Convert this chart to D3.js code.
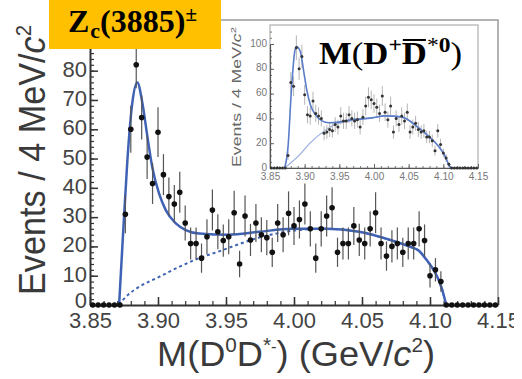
<!DOCTYPE html>
<html><head><meta charset="utf-8">
<script src="https://cdn.jsdelivr.net/npm/d3@7"></script>
<style>body{margin:0;background:#fff}svg{display:block}</style>
</head><body>
<svg id="c" width="522" height="379"></svg>
<script>
// ---------- DATA ----------
const massBins = [3.852,3.856,3.860,3.864,3.868,3.872,3.876,3.880,3.884,3.888,3.892,3.896,3.900,3.904,3.908,3.912,3.916,3.920,3.924,3.928,3.932,3.936,3.940,3.944,3.948,3.952,3.956,3.960,3.964,3.968,3.972,3.976,3.980,3.984,3.988,3.992,3.996,4.000,4.004,4.008,4.012,4.016,4.020,4.024,4.028,4.032,4.036,4.040,4.044,4.048,4.052,4.056,4.060,4.064,4.068,4.072,4.076,4.080,4.084,4.088,4.092,4.096,4.100,4.104,4.108,4.112,4.116,4.120,4.124,4.128,4.132,4.136,4.140,4.144,4.148];
const mainCounts = [0,0,0,0,0,0,
 31,60,82,64,50.5,41.5,59,44.5,37,34.5,38.5,28,21,21,16,23.3,32.4,25,22,23.3,31.5,14,30.4,22.2,28,24,23,18,28,24,31.3,27,29.2,34.5,26,16,26,30.4,33.2,18,21,21,27,22.2,21,26,31.5,21,16.7,20,21,18,21,21,26,22,10,12,8,0,
 0,0,0,0,0,0,0,0,0];
const mainErrors = [0,0,0,0,0,0,
 6.5,8,8,7.5,7.5,7,8.5,7,6.5,6.5,7,6,5.5,5.5,5,6,7,6,5.5,6,7.5,4.5,7,5.5,6.5,6,6,5,6.5,6,7.5,6.5,6.5,7,6,5,6,7,7,5,5.5,5.5,6.5,5.5,5.5,6,7,5.5,5,5.5,5.5,5,5.5,5.5,6,5.5,4,4,3.5,0,
 0,0,0,0,0,0,0,0,0];
const fitMass  = [3.8714,3.8738,3.8775,3.8811,3.8848,3.8885,3.8922,3.8958,3.9008,3.9057,3.9131,3.9204,3.9302,3.9522,3.9743,3.9986,4.0236,4.0478,4.0721,4.0846,4.0919,4.0973,4.1033,4.1073,4.1103,4.1118];
const fitTotal = [0,20,49.5,69,76,69,57.5,47,38,32.4,27.9,25.6,24.4,24,25,26,26,25,22,20,18.5,15.5,11.5,7.5,3,0];
const bgMass = [3.8714,3.8738,3.8783,3.8861,3.9008,3.9155,3.9302,3.9449,3.9596,3.9743,3.9893,4.0086,4.0236,4.0478,4.0721,4.0846,4.0919,4.0973,4.1033,4.1073,4.1103,4.1118];
const bgVal  = [0,1.5,3.6,6.2,9.6,13,16,18.3,20.8,23,24.6,25.8,26,25,22,20,18.5,15.5,11.5,7.5,3,0];

const insetCounts = [0,0,0,0,0,0,
 10,69,66,97,80,90,59,43,42,54,44,42,40,28,29,31,30,35,33,42,38,38,43,40,38,39,33,41,50,57,55,52,49,44,58,45,39,50,29,40,35,42,38,45,29,33,36,31,29,30,25,25,22,14,30,19,12,8,3,
 0,0,0,0,0,0,0,0,0,0];
const insetErrors = [0,0,0,0,0,0,
 3.5,8.5,8,10,9,9.5,8,7,7,7.5,7,7,6.5,5.5,5.5,6,5.5,6,6,7,6.5,6.5,7,6.5,6.5,6.5,6,6.5,7.5,8,7.5,7.5,7,7,8,7,6.5,7.5,5.5,6.5,6,7,6.5,7,5.5,6,6,6,5.5,5.5,5,5,5,4,5.5,4.5,3.5,3,2,
 0,0,0,0,0,0,0,0,0,0];
const insetFitMass = [3.8712,3.8760,3.8808,3.8857,3.8880,3.8937,3.8986,3.9034,3.9082,3.9154,3.9250,3.9347,3.9491,3.9683,3.9827,3.9971,4.0155,4.0395,4.0636,4.0780,4.0924,4.1021,4.1093,4.1108];
const insetFitVal  = [0,17,62,94,98,94,78,62,51,43,38,36.5,37,39,39.6,40.4,42,41.2,32.7,26,18,10,1,0];
const insetBgMass = [3.8712,3.8933,3.9077,3.9275,3.9440,3.9650,3.9827,3.9971,4.0155,4.0395,4.0636,4.0780,4.0924,4.1021,4.1093,4.1108];
const insetBgVal  = [0,11,20,29.5,35,38,39.6,40.4,42,41.2,32.7,26,18,10,1,0];

const xTicks = [3.85,3.90,3.95,4.00,4.05,4.10,4.15];
const yTicks = [0,10,20,30,40,50,60,70,80];
const insetYTicks = [0,20,40,60,80,100];

// ---------- DRAW ----------
const svg = d3.select('#c');
svg.append('rect').attr('width',522).attr('height',379).attr('fill','#fff');
const SANS = "'Liberation Sans', Arial, sans-serif";
const SERIF = "'Liberation Serif', 'Times New Roman', serif";
const blue = '#3f62b5';

const x = d3.scaleLinear().domain([3.85,4.15]).range([90,498]);
const y = d3.scaleLinear().domain([0,97.3]).range([305,20]);

// frame
svg.append('path').attr('d',`M${x(3.85)},${y(97.3)}H${x(4.15)}V${y(0)}`)
  .attr('fill','none').attr('stroke','#9a9a9a').attr('stroke-width',1.5);

// minor ticks
const xMinor = d3.range(3.85,4.1501,0.01);
const yMinor = d3.range(0,97,2);
svg.append('g').attr('transform',`translate(0,${y(0)})`)
  .call(d3.axisBottom(x).tickValues(xMinor).tickSize(-4).tickFormat(''))
  .call(g=>g.select('.domain').remove())
  .call(g=>g.selectAll('line').attr('stroke','#333').attr('stroke-width',1.2));
svg.append('g').attr('transform',`translate(${x(3.85)},0)`)
  .call(d3.axisLeft(y).tickValues(yMinor).tickSize(-4).tickFormat(''))
  .call(g=>g.select('.domain').remove())
  .call(g=>g.selectAll('line').attr('stroke','#333').attr('stroke-width',1.2));

// major axes
const gx = svg.append('g').attr('transform',`translate(0,${y(0)})`)
  .call(d3.axisBottom(x).tickValues(xTicks).tickFormat(d3.format('.2f')).tickSize(-8).tickSizeOuter(0).tickPadding(7));
const gy = svg.append('g').attr('transform',`translate(${x(3.85)},0)`)
  .call(d3.axisLeft(y).tickValues(yTicks).tickSize(-8).tickSizeOuter(0).tickPadding(3));
[gx,gy].forEach(g=>{
  g.select('.domain').attr('stroke','#333').attr('stroke-width',2);
  g.selectAll('line').attr('stroke','#333').attr('stroke-width',1.5);
  g.selectAll('text').attr('font-family',SANS).attr('font-size',22).attr('fill','#444');
});
gy.selectAll('text').attr('dy',d=>d===0?'0.12em':'0.25em');

// curves
const line = d3.line().x(d=>x(d[0])).y(d=>y(d[1])).curve(d3.curveMonotoneX);
svg.append('path').datum(d3.zip(bgMass,bgVal)).attr('d',line)
  .attr('fill','none').attr('stroke',blue).attr('stroke-width',2).attr('stroke-dasharray','3,3');
svg.append('path').datum(d3.zip(fitMass,fitTotal)).attr('d',line)
  .attr('fill','none').attr('stroke',blue).attr('stroke-width',2.5);

// data
const pts = d3.zip(massBins,mainCounts,mainErrors);
svg.append('g').selectAll('line').data(pts).join('line')
  .attr('x1',d=>x(d[0])).attr('x2',d=>x(d[0]))
  .attr('y1',d=>y(Math.max(0,d[1]-d[2]))).attr('y2',d=>y(d[1]+d[2]))
  .attr('stroke','#555').attr('stroke-width',1.2);
svg.append('g').selectAll('circle').data(pts).join('circle')
  .attr('cx',d=>x(d[0])).attr('cy',d=>y(d[1])).attr('r',2.8).attr('fill','#111');

// right-edge crop of the last tick label, as in the reference picture
svg.append('rect').attr('x',514).attr('y',310).attr('width',8).attr('height',26).attr('fill','#fff');

// axis labels
svg.append('text').attr('transform','translate(45,160) rotate(-90)')
  .attr('text-anchor','middle').attr('font-family',SANS).attr('font-size',37).attr('fill','#3a3a3a')
  .attr('textLength',270).attr('lengthAdjust','spacingAndGlyphs')
  .call(t=>{t.append('tspan').text('Events / 4 MeV/');
            t.append('tspan').attr('font-style','italic').text('c');
            t.append('tspan').attr('font-size',22).attr('dy',-14).text('2');});
svg.append('text').attr('x',296).attr('y',366)
  .attr('text-anchor','middle').attr('font-family',SANS).attr('font-size',35).attr('fill','#3a3a3a')
  .attr('textLength',278).attr('lengthAdjust','spacingAndGlyphs')
  .call(t=>{t.append('tspan').text('M(D');
            t.append('tspan').attr('font-size',20).attr('dy',-14).text('0');
            t.append('tspan').attr('dy',14).text('D');
            t.append('tspan').attr('font-size',20).attr('dy',-14).text('*');
            t.append('tspan').attr('font-size',16).text('-');
            t.append('tspan').attr('dy',14).text(') (GeV/');
            t.append('tspan').attr('font-style','italic').text('c');
            t.append('tspan').attr('font-size',20).attr('dy',-14).text('2');
            t.append('tspan').attr('dy',14).text(')');});

// ---------- INSET ----------
const xi = d3.scaleLinear().domain([3.85,4.15]).range([270,478]);
const yi = d3.scaleLinear().domain([0,100]).range([168,44]);
const gi = svg.append('g');
gi.append('rect').attr('x',270).attr('y',25).attr('width',208).attr('height',143)
  .attr('fill','#fff').attr('stroke','#b0b0b0').attr('stroke-width',1.2);
gi.append('g').attr('transform',`translate(0,${yi(0)})`)
  .call(d3.axisBottom(xi).tickValues(d3.range(3.85,4.1501,0.01)).tickSize(-2).tickFormat(''))
  .call(g=>g.select('.domain').remove())
  .call(g=>g.selectAll('line').attr('stroke','#777'));
gi.append('g').attr('transform',`translate(270,0)`)
  .call(d3.axisLeft(yi).tickValues(d3.range(0,115,5)).tickSize(-2).tickFormat(''))
  .call(g=>g.select('.domain').remove())
  .call(g=>g.selectAll('line').attr('stroke','#777'));
const gix = gi.append('g').attr('transform',`translate(0,${yi(0)})`)
  .call(d3.axisBottom(xi).tickValues(xTicks).tickFormat(d3.format('.2f')).tickSize(-4).tickSizeOuter(0).tickPadding(5));
const giy = gi.append('g').attr('transform',`translate(270,0)`)
  .call(d3.axisLeft(yi).tickValues(insetYTicks).tickSize(-4).tickSizeOuter(0).tickPadding(3));
[gix,giy].forEach(g=>{
  g.select('.domain').attr('stroke','#555').attr('stroke-width',1.2);
  g.selectAll('line').attr('stroke','#666');
  g.selectAll('text').attr('font-family',SANS).attr('font-size',10).attr('fill','#777');
});
giy.selectAll('text').attr('dy','0.2em');
const linei = d3.line().x(d=>xi(d[0])).y(d=>yi(d[1])).curve(d3.curveMonotoneX);
gi.append('path').datum(d3.zip(insetBgMass,insetBgVal)).attr('d',linei)
  .attr('fill','none').attr('stroke','#93a9dc').attr('stroke-width',1.1);
const ipts = d3.zip(massBins,insetCounts,insetErrors);
gi.append('g').selectAll('line').data(ipts).join('line')
  .attr('x1',d=>xi(d[0])).attr('x2',d=>xi(d[0]))
  .attr('y1',d=>yi(Math.max(0,d[1]-d[2]))).attr('y2',d=>yi(d[1]+d[2]))
  .attr('stroke','#b5b5b5').attr('stroke-width',1);
gi.append('path').datum(d3.zip(insetFitMass,insetFitVal)).attr('d',linei)
  .attr('fill','none').attr('stroke','#5b7cc8').attr('stroke-width',1.6);
gi.append('g').selectAll('circle').data(ipts).join('circle')
  .attr('cx',d=>xi(d[0])).attr('cy',d=>yi(d[1])).attr('r',1.5).attr('fill','#333');
gi.append('text').attr('transform','translate(241,97) rotate(-90)')
  .attr('text-anchor','middle').attr('font-family',SANS).attr('font-size',12.5).attr('fill','#666')
  .attr('textLength',140).attr('lengthAdjust','spacingAndGlyphs')
  .call(t=>{t.append('tspan').text('Events / 4 MeV/');
            t.append('tspan').attr('font-style','italic').text('c');
            t.append('tspan').attr('font-size',8).attr('dy',-5).text('2');});
const it = gi.append('text').attr('x',319).attr('y',64)
  .attr('font-family',SERIF).attr('font-weight','bold').attr('font-size',31).attr('fill','#000')
  .attr('textLength',143).attr('lengthAdjust','spacingAndGlyphs');
it.append('tspan').text('M');
it.append('tspan').attr('font-weight','normal').text('(');
it.append('tspan').text('D');
it.append('tspan').attr('font-size',21).attr('dy',-12).text('+');
it.append('tspan').attr('dy',12).text('D');
it.append('tspan').attr('font-size',21).attr('font-weight','normal').attr('dy',-12).text('*');
it.append('tspan').attr('font-size',21).text('0');
it.append('tspan').attr('font-weight','normal').attr('dy',12).text(')');
try {
  const ext = it.node().getExtentOfChar(4);
  gi.append('line').attr('x1',ext.x+1).attr('x2',ext.x+ext.width-1)
    .attr('y1',40).attr('y2',40).attr('stroke','#000').attr('stroke-width',2);
} catch(e) {}

// ---------- TITLE BOX ----------
svg.append('rect').attr('x',49).attr('y',0).attr('width',172).attr('height',49).attr('fill','#FFC000');
svg.append('text').attr('x',68).attr('y',32)
  .attr('font-family',SERIF).attr('font-weight','bold').attr('font-size',32).attr('fill','#000')
  .call(t=>{t.append('tspan').text('Z');
            t.append('tspan').attr('font-size',22).attr('dx',1).attr('dy',6).text('c');
            t.append('tspan').attr('dy',-6).text('(3885)');
            t.append('tspan').attr('font-size',21).attr('dy',-11).text('±');});
</script>
</body></html>
